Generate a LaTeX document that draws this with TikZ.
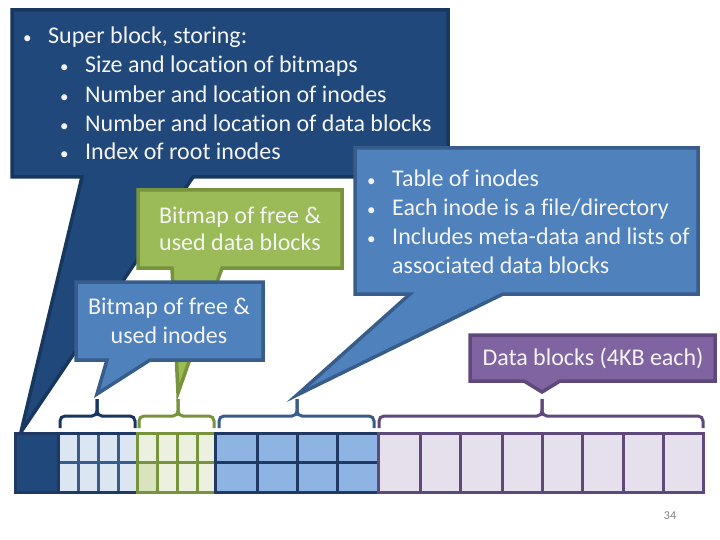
\documentclass[tikz,border=0pt]{standalone}
\usepackage{fontspec}
\setmainfont{Carlito}[Ligatures={NoCommon}]
\definecolor{sbfill}{HTML}{21487A}
\definecolor{sbline}{HTML}{17375E}
\definecolor{bfill}{HTML}{4F81BD}
\definecolor{bline}{HTML}{385D8A}
\definecolor{gfill}{HTML}{9BBB59}
\definecolor{gline}{HTML}{77933C}
\definecolor{pfill}{HTML}{8064A2}
\definecolor{pline}{HTML}{5F497A}
\definecolor{navy}{HTML}{1F3864}
\definecolor{cellb}{HTML}{DCE6F2}
\definecolor{cellg}{HTML}{EBF1DE}
\definecolor{cellgd}{HTML}{D7E4BD}
\definecolor{cellm}{HTML}{8EB4E3}
\definecolor{cellp}{HTML}{E6E0EC}
\definecolor{txtc}{HTML}{F4F4F4}
\tikzset{
  callout/.style={line width=3.5pt, line join=miter},
  txt/.style={text=txtc, font=\fontsize{24}{28}\selectfont, inner sep=0pt},
  bul/.style={text=txtc, font=\fontsize{17}{20}\selectfont, inner sep=0pt},
  bracestyle/.style={line width=3pt, rounded corners=5pt},
  gridline/.style={line width=3pt},
}
\begin{document}
\begin{tikzpicture}[x=1pt,y=-1pt]
\useasboundingbox (0,0) rectangle (720,540);
\fill[white] (0,0) rectangle (720,540);

% Super block callout
\filldraw[callout, fill=sbfill, draw=sbline] (12,10) -- (448,10) -- (448,177) -- (193,177) -- (21,432) -- (82,177) -- (12,177) -- cycle;
\node[bul, anchor=base west] (sb0b) at (23,44) {•};
\node[txt, anchor=base west] (sb0) at (48,44) {Super block, storing:};
\node[bul, anchor=base west] (sb1b) at (60,73) {•};
\node[txt, anchor=base west] (sb1) at (85,73) {Size and location of bitmaps};
\node[bul, anchor=base west] (sb2b) at (60,103) {•};
\node[txt, anchor=base west] (sb2) at (85,103) {Number and location of inodes};
\node[bul, anchor=base west] (sb3b) at (60,132) {•};
\node[txt, anchor=base west] (sb3) at (85,132) {Number and location of data blocks};
\node[bul, anchor=base west] (sb4b) at (60,160) {•};
\node[txt, anchor=base west] (sb4) at (85,160) {Index of root inodes};

% Green callout
\filldraw[callout, fill=gfill, draw=gline] (138,190) -- (342,190) -- (342,268) -- (222,268) -- (178,393) -- (172,268) -- (138,268) -- cycle;
\node[txt, anchor=base] (g1) at (240,223) {Bitmap of free \&};
\node[txt, anchor=base] (g2) at (240,250) {used data blocks};

% Blue inode bitmap callout
\filldraw[callout, fill=bfill, draw=bline] (76,282) -- (263,282) -- (263,360) -- (150,360) -- (97,394) -- (107,360) -- (76,360) -- cycle;
\node[txt, anchor=base] (b1) at (169,314) {Bitmap of free \&};
\node[txt, anchor=base] (b2) at (169,343) {used inodes};

% Inode table callout
\filldraw[callout, fill=bfill, draw=bline] (355,148) -- (698,148) -- (698,294) -- (503,294) -- (297,395) -- (410,294) -- (355,294) -- cycle;
\node[bul, anchor=base west] (t1b) at (367,187) {•};
\node[txt, anchor=base west] (t1) at (392,187) {Table of inodes};
\node[bul, anchor=base west] (t2b) at (367,215) {•};
\node[txt, anchor=base west] (t2) at (392,215) {Each inode is a file/directory};
\node[bul, anchor=base west] (t3b) at (367,244) {•};
\node[txt, anchor=base west] (t3) at (392,244) {Includes meta-data and lists of};
\node[txt, anchor=base west] (t4) at (392,273) {associated data blocks};

% Data blocks callout
\filldraw[callout, fill=pfill, draw=pline] (470,335) -- (715,335) -- (715,381) -- (560,381) -- (542,392) -- (524,381) -- (470,381) -- cycle;
\node[txt, anchor=base] (d1) at (593,365) {Data blocks (4KB each)};

% Braces
\draw[bracestyle, draw=sbline] (60,428) -- (60,416) -- (97,416) -- (97,399);
\draw[bracestyle, draw=sbline] (135,428) -- (135,416) -- (97,416) -- (97,399);
\draw[bracestyle, draw=gline] (139,428) -- (139,416) -- (178,416) -- (178,399);
\draw[bracestyle, draw=gline] (214,428) -- (214,416) -- (178,416) -- (178,399);
\draw[bracestyle, draw=bline] (219,428) -- (219,416) -- (297,416) -- (297,399);
\draw[bracestyle, draw=bline] (374,428) -- (374,416) -- (297,416) -- (297,399);
\draw[bracestyle, draw=pline] (379,428) -- (379,416) -- (542,416) -- (542,399);
\draw[bracestyle, draw=pline] (703,428) -- (703,416) -- (542,416) -- (542,399);

% Blocks
\fill[sbfill] (15,433) rectangle (58,492);
\fill[cellb] (58,433) rectangle (137,492);
\fill[cellg] (137,433) rectangle (215,492);
\fill[cellgd] (137,462) rectangle (157,492);
\fill[cellm] (215,433) rectangle (378,492);
\fill[cellp] (378,433) rectangle (703,492);
% inode bitmap grid
\foreach \x in {78,98,118} \draw[gridline, draw=bline] (\x,433) -- (\x,492);
\draw[gridline, draw=bline] (58,462) -- (137,462);
% green grid
\foreach \x in {157,177,197} \draw[gridline, draw=gline] (\x,433) -- (\x,492);
\draw[gridline, draw=gline] (137,462) -- (215,462);
\draw[gridline, draw=gline] (137,433) rectangle (215,492);
% inode table grid
\foreach \x in {257,297,337} \draw[gridline, draw=navy] (\x,433) -- (\x,492);
\draw[gridline, draw=navy] (215,462) -- (378,462);
\draw[gridline, draw=navy] (215,433) rectangle (378,492);
% inode bitmap outline and superblock outline
\draw[gridline, draw=navy] (15,433) rectangle (58,492);
\draw[gridline, draw=navy] (58,433) -- (136,433);
\draw[gridline, draw=navy] (58,492) -- (136,492);
% data blocks
\foreach \x in {420,460,502,542,582,623,663} \draw[gridline, draw=pline] (\x,433) -- (\x,492);
\draw[gridline, draw=pline] (378,433) rectangle (703,492);

% Page number
\node[font=\fontsize{12}{14}\selectfont, text=gray, anchor=base, inner sep=0pt] (pg) at (670,519) {34};
\end{tikzpicture}
\end{document}
